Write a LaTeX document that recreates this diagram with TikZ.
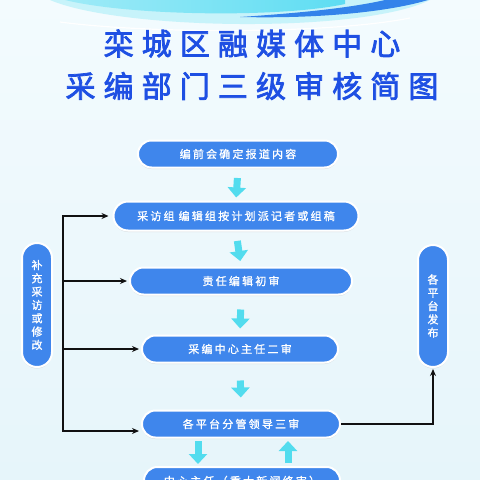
\documentclass[tikz,border=0pt]{standalone}
\usepackage{fontspec}
\newfontfamily\cjk{Noto Sans CJK SC}[FakeBold=1.2]
\newfontfamily\cjksp{Noto Sans CJK SC}[LetterSpace=20, FakeBold=1.2]
\newfontfamily\cjkti{Noto Sans CJK SC}[LetterSpace=27, FakeBold=2.5]
\usetikzlibrary{arrows.meta,shadows,calc}
\definecolor{bgtop}{HTML}{F3FBFE}
\definecolor{bgbot}{HTML}{E6F5FA}
\definecolor{nodeblue}{HTML}{3F86EC}
\definecolor{cyarr}{HTML}{52DCEE}
\definecolor{titleblue}{HTML}{1E4FE3}
\definecolor{wavecyan}{HTML}{5EDDF2}
\definecolor{waveblue}{HTML}{3383EA}
\definecolor{blk}{HTML}{111111}
\tikzset{
  pill/.style={rectangle, rounded corners=13.5pt, fill=nodeblue, draw=white, line width=2pt,
    minimum height=27pt, text=white, inner sep=0pt,
    font=\cjksp\fontsize{11}{13}\selectfont,
    drop shadow={shadow xshift=0pt, shadow yshift=-1.5pt, fill=black!30, opacity=0.35}},
  vpill/.style={pill, rounded corners=15pt, minimum width=30pt, align=center,
    font=\cjk\fontsize{11}{13.3}\selectfont},
  cyan arrow/.style={draw=cyarr, line width=7pt, -{Triangle[width=18pt,length=10pt]}},
  blk arrow/.style={draw=blk, line width=1.6pt, -{Stealth[length=7pt,width=6pt]}},
  blk line/.style={draw=blk, line width=1.6pt, line cap=rect},
  title/.style={text=titleblue, font=\cjkti\fontsize{30}{36}\selectfont, inner sep=0pt}
}
\begin{document}
\begin{tikzpicture}[x=1pt,y=-1pt]
\useasboundingbox (0,0) rectangle (480,480);
\clip (0,0) rectangle (480,480);
\shade[top color=bgtop, bottom color=bgbot] (0,0) rectangle (480,480);
% top wave
\fill[wavecyan!35] (50,0) .. controls (120,30) and (360,34) .. (430,0) -- cycle;
\shade[left color=wavecyan!60, right color=wavecyan] (65,0) .. controls (130,16) and (280,18) .. (345,4) -- (345,0) -- cycle;
\fill[waveblue] (240,17) .. controls (330,19) and (395,10) .. (428,0) -- (385,0) .. controls (350,8) and (300,13) .. cycle;
\draw[white, line width=1.2pt] (60,22) .. controls (150,34) and (330,34) .. (410,18);
% title
\node[title] (t1) at (252,43.5) {栾城区融媒体中心};
\node[title] (t2) at (252,86) {采编部门三级审核简图};
% main nodes
\node[pill, minimum width=200pt] (n1) at (238,154) {编前会确定报道内容};
\node[pill, minimum width=245pt, minimum height=29pt, rounded corners=14.5pt] (n2) at (236,216) {采访组\hspace{4pt}编辑组按计划派记者或组稿};
\node[pill, minimum width=222pt] (n3) at (241,281) {责任编辑初审};
\node[pill, minimum width=196pt] (n4) at (240,349) {采编中心主任二审};
\node[pill, minimum width=198pt] (n5) at (241,424) {各平台分管领导三审};
\node[pill, minimum width=196pt, minimum height=28pt] (n6) at (242,481) {中心主任（重大新闻终审）};
% side nodes
\node[vpill, minimum height=124pt] (lp) at (37,305) {补\\充\\采\\访\\或\\修\\改};
\node[vpill, minimum height=122pt] (rp) at (433,306) {各\\平\\台\\发\\布};
% cyan arrows
\draw[cyan arrow, shorten <=9.5pt, shorten >=3pt] (n1.south) -- (n2.north);
\draw[cyan arrow, shorten <=9.5pt, shorten >=5.5pt] (n2.south) -- (n3.north);
\draw[cyan arrow, shorten <=14pt, shorten >=6pt] (n3.south) -- (n4.north);
\draw[cyan arrow, shorten <=17pt, shorten >=12pt] (n4.south) -- (n5.north);
\coordinate (dx) at (198,0);
\coordinate (ux) at (288,0);
\draw[cyan arrow, shorten <=2.5pt, shorten >=2pt] (n5.south -| dx) -- (n6.north -| dx);
\draw[cyan arrow, shorten <=3pt, shorten >=2.5pt] (n6.north -| ux) -- (n5.south -| ux);
% black connectors
\coordinate (vt) at (63,216);
\coordinate (vb) at (63,431);
\draw[blk line] (vt) -- (vb);
\draw[blk arrow, shorten >=4pt] (vt) -- (n2.west);
\draw[blk arrow, shorten >=2pt] (vt |- n3.west) -- (n3.west);
\draw[blk arrow, shorten >=2pt] (vt |- n4.west) -- (n4.west);
\draw[blk arrow, shorten >=2pt] (vb) -- (vb -| n5.west);
\draw[blk arrow, shorten >=1pt] (n5.east) -- (n5.east -| rp.south) -- (rp.south);
\end{tikzpicture}
\end{document}
